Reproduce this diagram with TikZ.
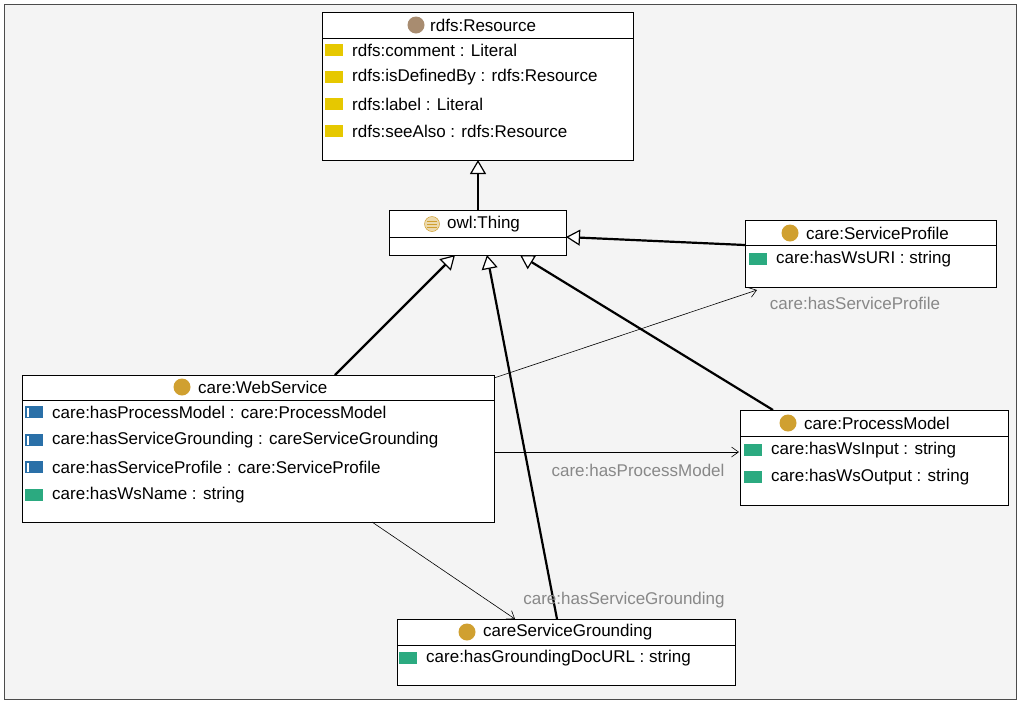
\documentclass[tikz,border=0pt]{standalone}
\usepackage{fontspec}
\setmainfont{Liberation Sans}
\usetikzlibrary{arrows.meta}
\definecolor{bg}{HTML}{F4F4F4}
\definecolor{cls}{HTML}{D0A030}
\definecolor{res}{HTML}{A88C70}
\definecolor{ann}{HTML}{E6C800}
\definecolor{dat}{HTML}{2BAA80}
\definecolor{obj}{HTML}{2A70A8}
\definecolor{lbl}{HTML}{888888}
\begin{document}
\begin{tikzpicture}[x=1pt,y=-1pt,
 box/.style={draw,fill=white,line width=1pt,anchor=north west,inner sep=0},
 txt/.style={anchor=west,inner sep=0,font=\fontsize{17}{19}\selectfont},
 ttl/.style={inner sep=0,font=\fontsize{17}{19}\selectfont},
 elbl/.style={inner sep=0,font=\fontsize{17}{19}\selectfont,text=lbl},
 isa/.style={line width=2.2pt,-{Triangle[open,length=14pt,width=16pt,fill=white,line width=1.2pt]}},
 rel/.style={line width=0.6pt,-{Straight Barb[length=7pt,width=10pt]}},
 sq/.style={fill=#1,minimum width=18pt,minimum height=12pt,inner sep=0,anchor=west},
 ci/.style={circle,fill=#1,minimum size=17pt,inner sep=0}]
\fill[bg,draw=black!70] (4,4) rectangle (1016,699);
\useasboundingbox (0,0) rectangle (1024,705);
% rdfs:Resource
\node[box,minimum width=311pt,minimum height=148pt] (R) at (322,12) {};
\draw (322,38) -- (633,38);
\node[ci=res] (Ri) at (416,25) {};
\node[ttl,anchor=west] (Rt) at (430,25) {rdfs:Resource};
\foreach \y/\t in {50/{rdfs:comment : Literal},77/{rdfs:isDefinedBy : rdfs:Resource},104/{rdfs:label : Literal},131/{rdfs:seeAlso : rdfs:Resource}}{
 \node[sq=ann] at (325,\y) {}; \node[txt] at (352,\y) {\t};}
% owl:Thing
\node[box,minimum width=177pt,minimum height=45pt] (T) at (389,210) {};
\draw (389,237) -- (566,237);
\node[ci=cls!40,draw=cls,line width=0.5pt,minimum size=15pt] (Ti) at (432,224) {};
\draw[cls,line width=0.7pt] (427,221)--(437,221) (427,224)--(437,224) (427,227)--(437,227);
\node[ttl,anchor=west] at (447,224) {owl:Thing};
% ServiceProfile
\node[box,minimum width=251pt,minimum height=67pt] (SP) at (745,220) {};
\draw (745,245) -- (996,245);
\node[ci=cls] at (790,233) {};
\node[ttl,anchor=west] at (806,233) {care:ServiceProfile};
\node[sq=dat] at (749,259) {}; \node[txt] at (776,259) {care:hasWsURI : string};
% WebService
\node[box,minimum width=472pt,minimum height=147pt] (WS) at (22,375) {};
\draw (22,400) -- (494,400);
\node[ci=cls] at (182,387) {};
\node[ttl,anchor=west] at (198,387) {care:WebService};
\foreach \y/\t/\c in {412/{care:hasProcessModel : care:ProcessModel}/obj,440/{care:hasServiceGrounding : careServiceGrounding}/obj,467/{care:hasServiceProfile : care:ServiceProfile}/obj,495/{care:hasWsName : string}/dat}{
 \node[sq=\c] at (25,\y) {}; \node[txt] at (52,\y) {\t};}
\foreach \y in {412,440,467} \fill[white] (26.5,\y-4.5) rectangle (28.5,\y+4.5);
% ProcessModel
\node[box,minimum width=268pt,minimum height=95pt] (PM) at (740,410) {};
\draw (740,436) -- (1008,436);
\node[ci=cls] at (788,423) {};
\node[ttl,anchor=west] at (804,423) {care:ProcessModel};
\node[sq=dat] at (744,450) {}; \node[txt] at (771,450) {care:hasWsInput : string};
\node[sq=dat] at (744,477) {}; \node[txt] at (771,477) {care:hasWsOutput : string};
% Grounding
\node[box,minimum width=338pt,minimum height=66pt] (G) at (397,619) {};
\draw (397,645) -- (735,645);
\node[ci=cls] at (467,632) {};
\node[ttl,anchor=west] at (483,632) {careServiceGrounding};
\node[sq=dat] at (399,658) {}; \node[txt] at (426,658) {care:hasGroundingDocURL : string};
% coordinates
\coordinate (t1) at (478,210); \coordinate (r1) at (478,160);
\coordinate (sp1) at (745,245); \coordinate (t2) at (566,237);
\coordinate (ws1) at (335,375); \coordinate (t3) at (455,255);
\coordinate (g1) at (557,619); \coordinate (t4) at (487,255);
\coordinate (pm1) at (773,410); \coordinate (t5) at (520,255);
\coordinate (ws2) at (494,378); \coordinate (sp2) at (757,290);
\coordinate (ws3) at (494,452); \coordinate (pm2) at (739,452);
\coordinate (ws4) at (372,522); \coordinate (g2) at (515,619);
\draw[isa] (t1) -- (r1);
\draw[isa] (sp1) -- (t2);
\draw[isa] (ws1) -- (t3);
\draw[isa] (g1) -- (t4);
\draw[isa] (pm1) -- (t5);
\draw[rel] (ws2) -- (sp2);
\draw[rel] (ws3) -- (pm2);
\draw[rel] (ws4) -- (g2);
\node[elbl] at (855,303) {care:hasServiceProfile};
\node[elbl] at (638,470) {care:hasProcessModel};
\node[elbl] at (624,600) {care:hasServiceGrounding};
\end{tikzpicture}
\end{document}
